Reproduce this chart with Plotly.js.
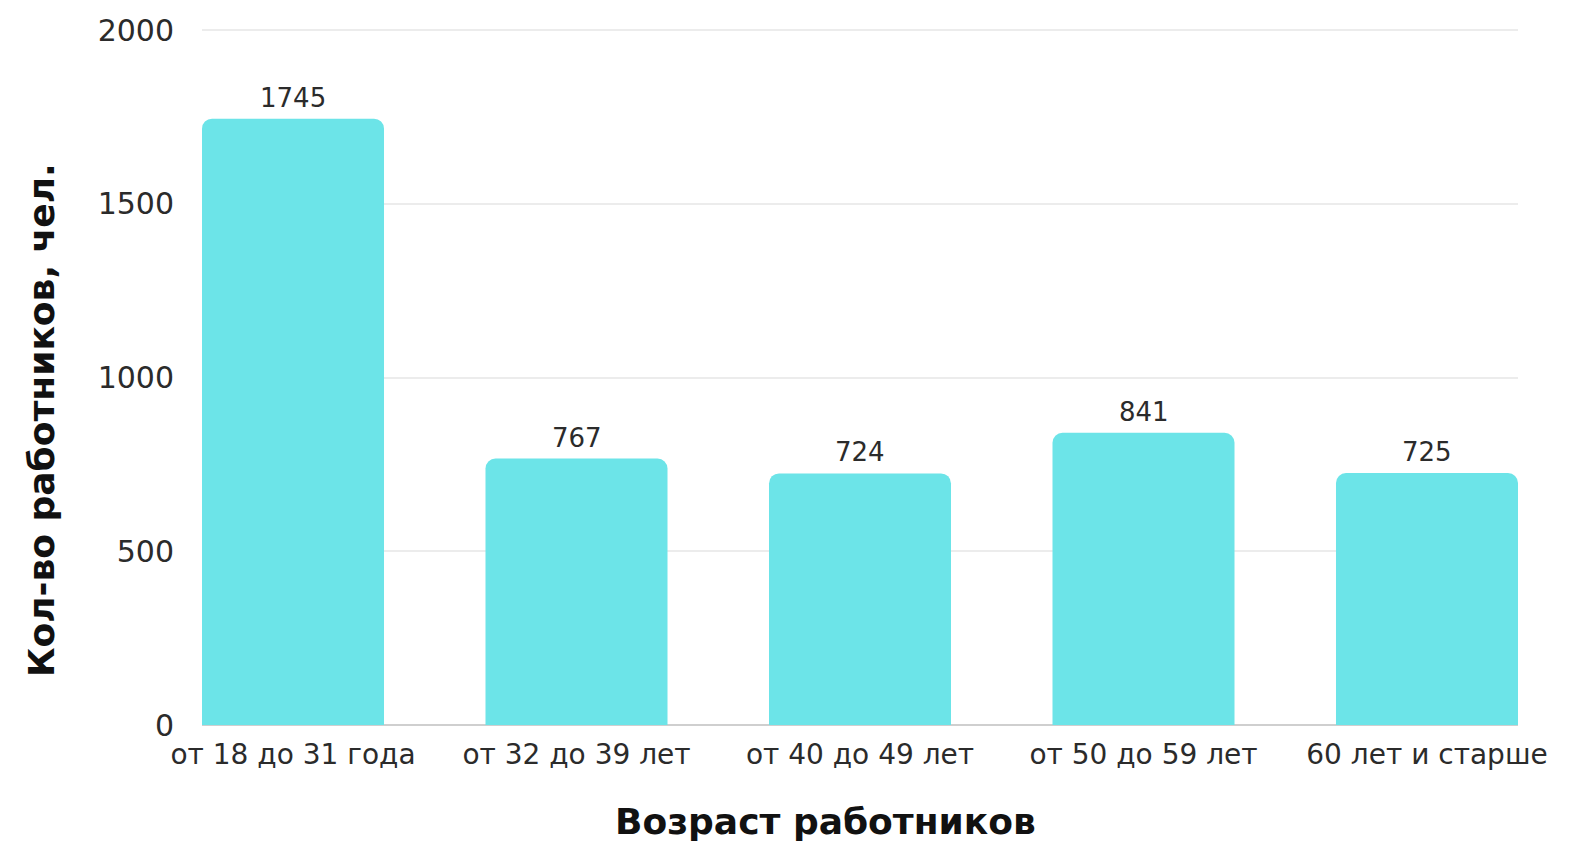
<!DOCTYPE html>
<html><head><meta charset="utf-8">
<script src="https://cdn.plot.ly/plotly-3.0.1.min.js"></script>
<style>html,body{margin:0;padding:0;background:#fff}</style>
</head><body>
<div id="chart" style="width:1569px;height:845px"></div>
<script>
const categories = ["от 18 до 31 года", "от 32 до 39 лет", "от 40 до 49 лет", "от 50 до 59 лет", "60 лет и старше"];
const values = [1745, 767, 724, 841, 725];
const yTicks = [0, 500, 1000, 1500, 2000];
const xTitle = "Возраст работников";
const yTitle = "Кол-во работников, чел.";

const FONT = "DejaVu Sans";
const trace = {
  type: "bar",
  x: categories,
  y: values,
  marker: {color: "#6ce4e8", cornerradius: 10},
  hoverinfo: "none",
  cliponaxis: false
};
const annotations = categories.map((c, i) => ({
  x: c, y: values[i], xref: "x", yref: "y",
  text: String(values[i]), showarrow: false,
  yanchor: "bottom", yshift: 4,
  font: {family: FONT, size: 26, color: "#2b2b2b"}
}));
annotations.push({
  xref: "paper", yref: "paper", x: 0.474, y: -0.139,
  xanchor: "center", yanchor: "middle", showarrow: false,
  text: "<b>" + xTitle + "</b>",
  font: {family: FONT, size: 36, color: "#111"}
});
annotations.push({
  xref: "paper", yref: "paper", x: -0.1216, y: 0.4376,
  xanchor: "center", yanchor: "middle", showarrow: false, textangle: -90,
  text: "<b>" + yTitle + "</b>",
  font: {family: FONT, size: 36, color: "#111"}
});
const layout = {
  width: 1569, height: 845,
  margin: {l: 202, r: 51, t: 28, b: 120},
  paper_bgcolor: "#fff", plot_bgcolor: "#fff",
  bargap: 0.358,
  showlegend: false,
  font: {family: FONT, color: "#2b2b2b"},
  xaxis: {
    range: [-0.321, 4.321],
    tickfont: {family: FONT, size: 28, color: "#2b2b2b"},
    ticks: "outside", ticklen: 4, tickcolor: "rgba(0,0,0,0)",
    showgrid: false, zeroline: false,
    showline: false
  },
  yaxis: {
    range: [0, 2006],
    tickvals: yTicks,
    tickfont: {family: FONT, size: 30, color: "#2b2b2b"},
    ticks: "outside", ticklen: 21, tickcolor: "rgba(0,0,0,0)",
    showgrid: true, gridcolor: "#ececec", gridwidth: 2,
    zeroline: true, zerolinecolor: "#cfcfcf", zerolinewidth: 2
  },
  annotations: annotations
};
Plotly.newPlot("chart", [trace], layout, {displayModeBar: false, staticPlot: true});
</script>
</body></html>
